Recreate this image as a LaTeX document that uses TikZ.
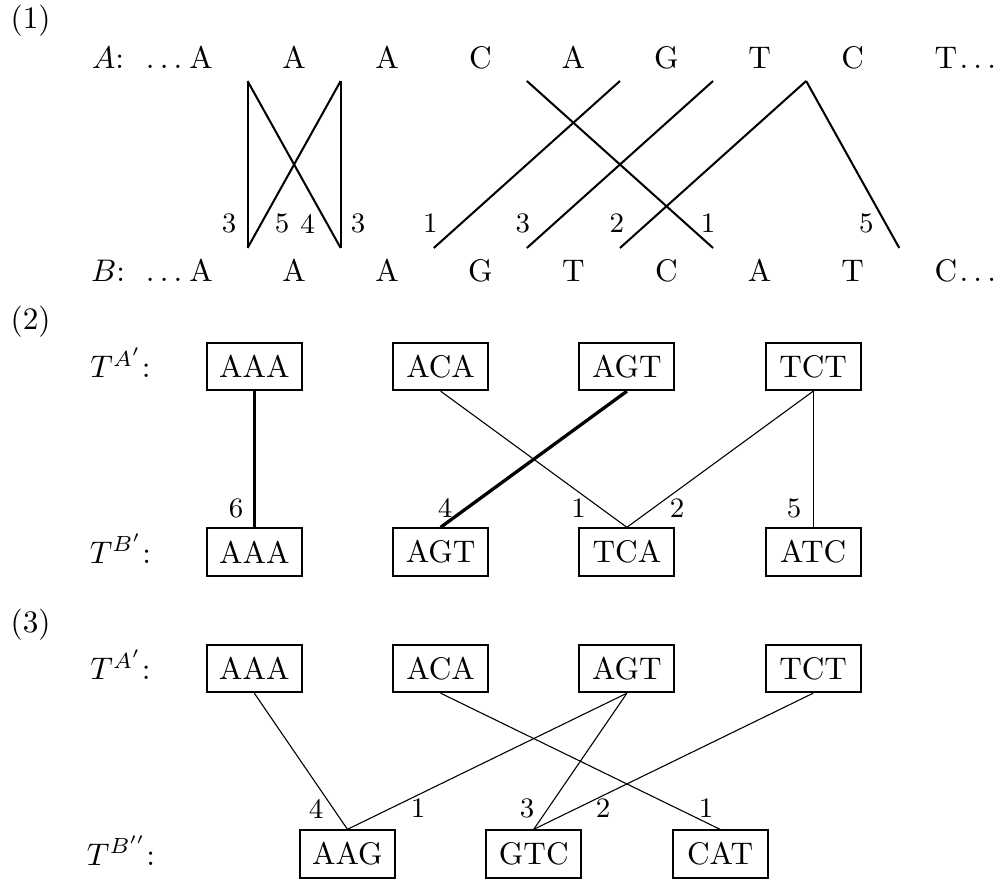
\documentclass[tikz,border=0pt]{standalone}
\usetikzlibrary{calc}
\begin{document}
\begin{tikzpicture}[x=0.32pt, y=-0.32pt,
  part/.style={inner sep=0pt, anchor=base west},
  tag/.style={inner sep=0pt, anchor=base},
  base/.style={inner sep=0pt, anchor=base},
  num/.style={inner sep=0pt, font=\small},
  match/.style={line width=0.65pt},
  kmer/.style={draw, line width=0.6pt, inner sep=0pt,
    minimum width=30.4pt, minimum height=15.2pt},
  weak/.style={line width=0.35pt},
  strong/.style={line width=1.05pt}]
\useasboundingbox (0,0) rectangle (1000,882);

% ---------- (1) the two sequences and their matching positions ----------
\node[part] (p1) at (10,29) {(1)};
\node[tag] (labA) at (108,69) {$A$:};
\node[tag] (labB) at (108,282) {$B$:};
\foreach \s [count=\i] in {A,A,A,C,A,G,T,C,T}{
  \pgfmathsetmacro\xx{201+93.1*(\i-1)}
  \ifnum\i=1 \def\s{\llap{$\ldots$\kern2.2pt}A}\fi
  \ifnum\i=9 \def\s{T\rlap{\kern0.8pt$\ldots$}}\fi
  \node[base] (a\i) at (\xx,69) {\s};
}
\foreach \s [count=\i] in {A,A,A,G,T,C,A,T,C}{
  \pgfmathsetmacro\xx{201+93.1*(\i-1)}
  \ifnum\i=1 \def\s{\llap{$\ldots$\kern2.2pt}A}\fi
  \ifnum\i=9 \def\s{C\rlap{\kern0.8pt$\ldots$}}\fi
  \node[base] (b\i) at (\xx,282) {\s};
}
% gaps between neighbouring letters
\foreach \k in {1,...,8}{
  \pgfmathsetmacro\xx{247.55+93.1*(\k-1)}
  \coordinate (tg\k) at (\xx,81);
  \coordinate (bg\k) at (\xx,248);
}
\draw[match] (tg1) -- (bg1);
\draw[match] (tg1) -- (bg2);
\draw[match] (tg2) -- (bg1);
\draw[match] (tg2) -- (bg2);
\draw[match] (tg5) -- (bg3);
\draw[match] (tg6) -- (bg4);
\draw[match] (tg7) -- (bg5);
\draw[match] (tg4) -- (bg6);
\draw[match] (tg7) -- (bg8);
\node[num] (n1) at ($(bg1)+(-18.5,-24.5)$) {3};
\node[num] (n2) at ($(bg1)+(34.5,-24.5)$) {5};
\node[num] (n3) at ($(bg2)+(-33,-24.5)$) {4};
\node[num] (n4) at ($(bg2)+(17.5,-24.5)$) {3};
\node[num] (n5) at ($(bg3)+(-3.5,-24.5)$) {1};
\node[num] (n6) at ($(bg4)+(-4,-24.5)$) {3};
\node[num] (n7) at ($(bg5)+(-3,-24.5)$) {2};
\node[num] (n8) at ($(bg6)+(-5,-24.5)$) {1};
\node[num] (n9) at ($(bg8)+(-33,-24.5)$) {5};

% ---------- (2) k-mer sets T^{A'} and T^{B'} ----------
\node[part] (p2) at (10,330) {(2)};
\node[tag] (tA2) at (120.5,377.5) {$T^{A'}$:};
\node[tag] (tB2) at (120.5,563) {$T^{B'}$:};
\foreach \s [count=\i] in {AAA,ACA,AGT,TCT}{
  \pgfmathsetmacro\xx{254.3+186.3*(\i-1)}
  \node[kmer] (ta\i) at (\xx,366.5) {\s};
}
\foreach \s [count=\i] in {AAA,AGT,TCA,ATC}{
  \pgfmathsetmacro\xx{254.3+186.3*(\i-1)}
  \node[kmer] (tb\i) at (\xx,552) {\s};
}
\draw[strong] (ta1.south) -- (tb1.north);
\draw[weak] (ta2.south) -- (tb3.north);
\draw[strong] (ta3.south) -- (tb2.north);
\draw[weak] (ta4.south) -- (tb3.north);
\draw[weak] (ta4.south) -- (tb4.north);
\node[num] (m1) at (236,508) {6};
\node[num] (m2) at (445,507.5) {4};
\node[num] (m3) at (578.5,508) {1};
\node[num] (m4) at (677,508) {2};
\node[num] (m5) at (794,508) {5};

% ---------- (3) k-mer sets T^{A'} and T^{B''} ----------
\node[part] (p3) at (10,632) {(3)};
\node[tag] (tA3) at (120.5,679.5) {$T^{A'}$:};
\node[tag] (tB3) at (121,865) {$T^{B''}$:};
\foreach \s [count=\i] in {AAA,ACA,AGT,TCT}{
  \pgfmathsetmacro\xx{254.3+186.3*(\i-1)}
  \node[kmer] (tc\i) at (\xx,668.5) {\s};
}
\foreach \s [count=\i] in {AAG,GTC,CAT}{
  \pgfmathsetmacro\xx{347.45+186.3*(\i-1)}
  \node[kmer] (td\i) at (\xx,854) {\s};
}
\draw[weak] (tc1.south) -- (td1.north);
\draw[weak] (tc3.south) -- (td1.north);
\draw[weak] (tc2.south) -- (td3.north);
\draw[weak] (tc3.south) -- (td2.north);
\draw[weak] (tc4.south) -- (td2.north);
\node[num] (q1) at (316,808.5) {4};
\node[num] (q2) at (418,808.5) {1};
\node[num] (q3) at (527,808.5) {3};
\node[num] (q4) at (603,808.5) {2};
\node[num] (q5) at (706,808.5) {1};
\end{tikzpicture}
\end{document}
